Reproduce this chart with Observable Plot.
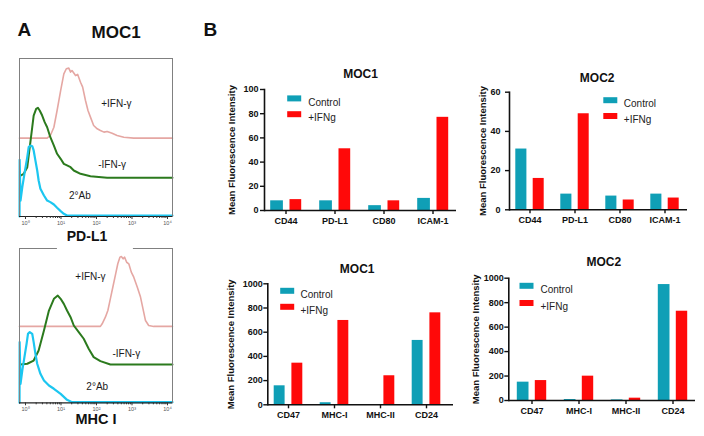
<!DOCTYPE html>
<html><head><meta charset="utf-8">
<script src="https://cdn.jsdelivr.net/npm/d3@7"></script>
<script src="https://cdn.jsdelivr.net/npm/@observablehq/plot@0.6"></script>
<style>
body{margin:0;background:#fff}
#root{position:relative;width:704px;height:436px;overflow:hidden;background:#fff}
#root svg{position:absolute;left:0;top:0}
</style></head><body><div id="root"></div>
<script>
const W = 704, H = 436;
const FONT = "'Liberation Sans', Arial, Helvetica, sans-serif";

// ---------- Panel A: flow histograms (x = log10 fluorescence, y = relative count incl. offset) ----------
const decades = [0, 1, 2, 3, 4];
const decadeLabels = ["10\u2070", "10\u00B9", "10\u00B2", "10\u00B3", "10\u2074"];
const minorTicks = [0, 1, 2, 3].flatMap(d => [2,3,4,5,6,7,8,9].map(k => d + Math.log10(k)));

const pdl1Ifn = [[-0.17,49.6],[0.61,49.6],[0.70,51.3],[0.80,56.5],[0.89,67.1],[0.99,79.7],[1.08,90.3],[1.15,93.5],[1.22,93.9],[1.27,91.4],[1.31,92.4],[1.41,89.2],[1.47,89.9],[1.55,85.0],[1.61,81.9],[1.69,73.4],[1.76,67.1],[1.83,62.9],[1.92,57.6],[2.02,55.5],[2.11,54.4],[2.21,53.4],[2.30,53.8],[2.44,52.7],[2.58,51.3],[2.77,50.2],[3.05,49.6],[4.14,49.6]];
const pdl1NoIfn = [[-0.14,25.9],[-0.05,27.0],[0.05,31.2],[0.12,43.9],[0.19,56.5],[0.23,63.9],[0.30,68.1],[0.35,68.8],[0.40,67.1],[0.47,63.9],[0.54,59.7],[0.61,56.5],[0.70,50.2],[0.80,44.9],[0.89,39.7],[0.99,36.5],[1.08,33.3],[1.17,32.3],[1.27,31.2],[1.36,29.1],[1.55,27.0],[1.83,25.5],[2.30,24.5],[4.14,24.5]];
const pdl1Ab = [[-0.168,0],[-0.165,35.9],[-0.14,10.1],[-0.09,18.6],[-0.03,27.0],[0.05,37.6],[0.09,43.9],[0.14,44.9],[0.19,44.5],[0.23,41.8],[0.28,35.4],[0.33,29.1],[0.37,22.8],[0.42,17.5],[0.52,13.3],[0.61,10.1],[0.70,9.1],[0.80,7.6],[0.89,5.5],[0.99,3.4],[1.08,1.7],[1.17,0.6],[4.14,0.6]];

const mhcIfn = [[-0.17,49.5],[2.11,49.5],[2.16,51.2],[2.25,55.5],[2.32,59.8],[2.39,67.4],[2.47,76.0],[2.54,83.6],[2.60,90.1],[2.66,94.4],[2.70,94.8],[2.75,93.3],[2.79,94.4],[2.85,91.1],[2.91,90.1],[2.98,84.7],[3.05,81.4],[3.15,74.9],[3.24,68.5],[3.31,60.9],[3.38,53.3],[3.47,50.1],[3.61,49.5],[4.14,49.5]];
const mhcNoIfn = [[-0.14,24.8],[0.05,25.3],[0.23,27.4],[0.37,33.9],[0.52,46.9],[0.66,59.8],[0.80,67.4],[0.91,69.5],[0.99,67.4],[1.08,64.1],[1.17,59.8],[1.27,55.5],[1.36,50.1],[1.50,45.8],[1.64,41.5],[1.78,35.0],[1.92,29.6],[2.11,27.0],[2.39,24.8],[4.14,24.8]];
const mhcAb = [[-0.168,0],[-0.165,39.3],[-0.14,12.3],[-0.09,21.0],[-0.03,29.6],[0.03,38.2],[0.07,44.7],[0.12,45.8],[0.19,44.7],[0.23,39.3],[0.28,31.7],[0.33,25.3],[0.42,18.8],[0.52,14.5],[0.66,11.2],[0.80,9.1],[0.99,5.8],[1.17,1.9],[1.31,0.4],[4.14,0.4]];
const mhcTopGap = [0.9, 3.04];

// ---------- Panel B: bar charts ----------
const seriesNames = ["Control", "+IFNg"];
const catsTop = ["CD44", "PD-L1", "CD80", "ICAM-1"];
const catsBottom = ["CD47", "MHC-I", "MHC-II", "CD24"];
const moc1TopControl = [8, 8, 4, 10];
const moc1TopIfn = [9, 51, 8, 77];
const moc2TopControl = [31, 8, 7, 8];
const moc2TopIfn = [16, 49, 5, 6];
const moc1BotControl = [157, 17, 2, 532];
const moc1BotIfn = [344, 697, 240, 760];
const moc2BotControl = [150, 8, 5, 948];
const moc2BotIfn = [163, 199, 19, 730];
const yTitle = "Mean Fluorescence Intensity";

const TEAL = "#0f9fb6", RED = "#ff0909";
const PINK = "#e5a7a3", GREEN = "#2b7a1d", CYAN = "#1cc6f0";

const swatch = { draw(ctx) { ctx.rect(-7, -3, 14, 6); } };
const root = document.getElementById("root");

function histPanel(o) {
  const L = 19, R = 172, [t, b] = o.frame;
  const xd = [-0.169, 4.141];
  const fh = b - t;
  const topBorder = o.gap
    ? [Plot.ruleY([100], {x1: xd[0], x2: o.gap[0], stroke: "#808080"}),
       Plot.ruleY([100], {x1: o.gap[1], x2: xd[1], stroke: "#808080"})]
    : [Plot.frame({anchor: "top", stroke: "#808080"})];
  return Plot.plot({
    width: W, height: H,
    marginLeft: L, marginRight: W - R, marginTop: t, marginBottom: H - b,
    x: {domain: xd},
    y: {domain: [0, 100], axis: null},
    style: {background: "transparent", fontFamily: FONT, overflow: "visible", color: "#111"},
    marks: [
      Plot.line(o.curves[0], {stroke: PINK, strokeWidth: 1.6}),
      Plot.line(o.curves[1], {stroke: GREEN, strokeWidth: 2}),
      Plot.line(o.curves[2], {stroke: CYAN, strokeWidth: 2.2}),
      Plot.frame({anchor: "left", stroke: "#808080"}),
      Plot.frame({anchor: "right", stroke: "#808080"}),
      ...topBorder,
      Plot.ruleY([0], {stroke: "#222", strokeWidth: 1.2}),
      Plot.ruleX(minorTicks, {x: d => d, insetTop: fh - 2, dy: 2, stroke: "#333"}),
      Plot.axisX({ticks: decades, tickSize: 3, tickPadding: 1.5, fontSize: 5.5, fill: "#555",
        tickFormat: d => decadeLabels[decades.indexOf(d)], label: null, stroke: "#333"}),
      Plot.text(o.labels, {x: "x", y: "y", text: "t", fontSize: 10, fill: "#1a1a1a"}),
      Plot.text([o.name], {frameAnchor: "bottom", dx: o.nameDx, dy: o.nameDy, fontSize: o.nameSize, fontWeight: "bold"}),
      ...(o.extra || [])
    ]
  });
}

root.appendChild(histPanel({
  frame: [58, 216],
  curves: [pdl1Ifn, pdl1NoIfn, pdl1Ab],
  labels: [{x: 2.56, y: 71.3, t: "+IFN-\u03B3"}, {x: 2.44, y: 32.7, t: "-IFN-\u03B3"}, {x: 1.53, y: 13.3, t: "2\u00B0Ab"}],
  name: "PD-L1", nameDx: -9, nameDy: 24, nameSize: 14,
  extra: [
    Plot.text(["A"], {frameAnchor: "top-left", dx: -2, dy: -36, fontSize: 19, fontWeight: "bold"}),
    Plot.text(["MOC1"], {frameAnchor: "top-left", dx: 72, dy: -33, fontSize: 17, fontWeight: "bold"}),
    Plot.text(["B"], {frameAnchor: "top-left", dx: 184, dy: -36, fontSize: 19, fontWeight: "bold"})
  ]
}));
root.appendChild(histPanel({
  frame: [248, 402.3],
  curves: [mhcIfn, mhcNoIfn, mhcAb],
  gap: mhcTopGap,
  labels: [{x: 1.83, y: 81.4, t: "+IFN-\u03B3"}, {x: 2.84, y: 31.8, t: "-IFN-\u03B3"}, {x: 2.02, y: 10.6, t: "2\u00B0Ab"}],
  name: "MHC I", nameDx: 0, nameDy: 21.5, nameSize: 14.5
}));

function barPanel(c) {
  const rows = c.cats.map((cat, i) => ({cat, control: c.control[i], ifn: c.ifn[i]}));
  const [l, r, t, b] = c.frame;
  return Plot.plot({
    width: W, height: H,
    marginLeft: l, marginRight: W - r, marginTop: t, marginBottom: H - b,
    x: {type: "band", domain: c.cats, range: c.range, padding: 0},
    y: {domain: [0, c.yMax]},
    style: {background: "transparent", fontFamily: FONT, fontWeight: "bold", overflow: "visible", color: "#111"},
    marks: [
      Plot.barY(rows, {x: "cat", y: "control", fill: TEAL, insetLeft: c.insC[0], insetRight: c.insC[1]}),
      Plot.barY(rows, {x: "cat", y: "ifn", fill: RED, insetLeft: c.insI[0], insetRight: c.insI[1]}),
      Plot.ruleY([0], {stroke: "#111", strokeWidth: 1.6}),
      Plot.frame({anchor: "left", stroke: "#111", strokeWidth: 1.6}),
      Plot.axisY({ticks: c.yTicks, tickFormat: d => String(d), tickSize: 4, tickPadding: c.tickPad, fontSize: 9, label: null, strokeWidth: 1.4}),
      Plot.axisX({tickSize: 4, tickPadding: 3, fontSize: 9, label: null, strokeWidth: 1.4}),
      Plot.text([c.title], {frameAnchor: "top", dx: c.titlePos[0] - (l + r) / 2, dy: c.titlePos[1] - t, fontSize: 12}),
      Plot.text([yTitle], {frameAnchor: "left", textAnchor: "middle", rotate: -90, dx: c.yTitleX - l, fontSize: 9.5}),
      Plot.dot([0], {frameAnchor: "top-left", dx: c.leg[0] - l, dy: c.leg[1] - t, symbol: swatch, fill: TEAL}),
      Plot.dot([0], {frameAnchor: "top-left", dx: c.leg[0] - l, dy: c.leg[2] - t, symbol: swatch, fill: RED}),
      Plot.text([seriesNames[0]], {frameAnchor: "top-left", dx: c.leg[3] - l, dy: c.leg[1] - t, textAnchor: "start", fontSize: 10, fontWeight: "normal", fill: "#222"}),
      Plot.text([seriesNames[1]], {frameAnchor: "top-left", dx: c.leg[3] - l, dy: c.leg[2] - t, textAnchor: "start", fontSize: 10, fontWeight: "normal", fill: "#222"})
    ]
  });
}

root.appendChild(barPanel({
  cats: catsTop, control: moc1TopControl, ifn: moc1TopIfn, title: "MOC1",
  yMax: 100, yTicks: [0, 20, 40, 60, 80, 100], tickPad: 2,
  frame: [264, 456, 89, 210], range: [260.8, 456.8],
  insC: [9.2, 27.1], insI: [28.5, 8.8],
  titlePos: [360, 69], yTitleX: 231.7, leg: [293.7, 97.9, 113.7, 307.7]
}));
root.appendChild(barPanel({
  cats: catsTop, control: moc2TopControl, ifn: moc2TopIfn, title: "MOC2",
  yMax: 60, yTicks: [0, 20, 40, 60], tickPad: 5,
  frame: [509, 687, 91.7, 209.3], range: [506, 688.4],
  insC: [8.3, 25.6], insI: [25.7, 8.3],
  titlePos: [596.7, 72.7], yTitleX: 482.3, leg: [609.8, 99.7, 115.5, 623.3]
}));
root.appendChild(barPanel({
  cats: catsBottom, control: moc1BotControl, ifn: moc1BotIfn, title: "MOC1",
  yMax: 1000, yTicks: [0, 200, 400, 600, 800, 1000], tickPad: 1,
  frame: [267.3, 453, 283.3, 404.3], range: [263.6, 450.8],
  insC: [8.7, 26.4], insI: [26.4, 8.7],
  titlePos: [356.7, 264], yTitleX: 230.7, leg: [286.7, 290.3, 306.3, 300]
}));
root.appendChild(barPanel({
  cats: catsBottom, control: moc2BotControl, ifn: moc2BotIfn, title: "MOC2",
  yMax: 1000, yTicks: [0, 200, 400, 600, 800, 1000], tickPad: 1,
  frame: [508.3, 695, 277.7, 400], range: [507.2, 697.6],
  insC: [8.8, 26.5], insI: [26.8, 8.8],
  titlePos: [603.3, 257.3], yTitleX: 475.7, leg: [526, 285.3, 302.5, 540]
}));
</script></body></html>
